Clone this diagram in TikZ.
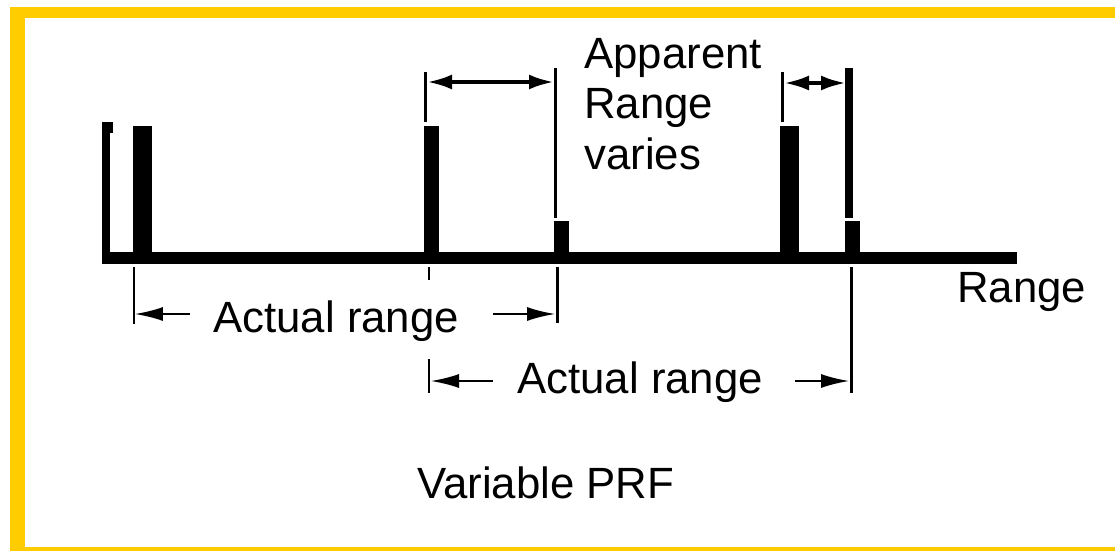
\documentclass[tikz,border=0pt]{standalone}
\usepackage{fontspec}
\setmainfont{Liberation Sans}
\usetikzlibrary{arrows.meta,positioning}
\definecolor{framegold}{HTML}{FFCC00}

\begin{document}
\begin{tikzpicture}[
  x=0.02cm, y=-0.02cm,
  every node/.style={font=\fontsize{24.9}{28.7}\selectfont, inner sep=0pt},
  pulse/.style={fill=black, anchor=south west, minimum width=0.38cm, minimum height=2.64cm},
  echo/.style={fill=black, anchor=south west, minimum width=0.3cm, minimum height=0.74cm},
  extline/.style={line width=1.7pt},
  gaparrow/.style={{Latex[length=0.5cm,width=0.3cm]}-{Latex[length=0.5cm,width=0.3cm]}, line width=2.3pt},
  rangearrow/.style={-{Latex[length=0.56cm,width=0.28cm]}, line width=1pt}
]
\useasboundingbox (0,0) rectangle (1115,551);

% Frame
\fill[framegold] (10,7) rectangle (1115,18);
\fill[framegold] (10,7) rectangle (25,551);
\fill[framegold] (10,547) rectangle (1115,551);

% Axis
\coordinate (axtop) at (106,122);
\coordinate (axfoot) at (106,264);
\coordinate (origin) at (102,258);
\coordinate (axend) at (1017,258);
\draw[line width=0.24cm] (origin) -- (axend);
\draw[line width=0.16cm] (axtop) -- (axfoot);
\fill (102,122) rectangle (113,133);

% Nodes
\node[pulse] (pulse1) at (133,258) {};
\node[pulse, minimum width=0.3cm] (pulse2) at (424,258) {};
\node[pulse] (pulse3) at (780,258) {};
\node[echo] (echo2) at (554,258) {};
\node[echo] (echo3) at (845,258) {};

\node[anchor=north west, align=left] (apparent) at (584,38) {Apparent\\Range\\varies};
\node[anchor=base west] (rangelbl) at (957,302) {Range};
\node[anchor=base west] (act1) at (213,332) {Actual range};
\node[anchor=base west] (act2) at (517,393) {Actual range};
\node[anchor=base west] (prf) at (417,498) {Variable PRF};

% Extension lines
\coordinate (p1lo) at (134,267);   \coordinate (p1bot) at (134,324);
\coordinate (p2hi) at (425.5,72);  \coordinate (p2top) at (425.5,122);
\coordinate (p2lo) at (429,267);   \coordinate (p2tick) at (429,280);
\coordinate (p2mid) at (429,359);  \coordinate (p2bot) at (429,393);
\coordinate (e2hi) at (555.5,68);  \coordinate (e2top) at (555.5,218);
\coordinate (e2lo) at (557,267);   \coordinate (e2bot) at (557,323);
\coordinate (p3hi) at (782,72);    \coordinate (p3top) at (782,122);
\coordinate (e3hi) at (849,68);    \coordinate (e3top) at (849,218);
\coordinate (e3lo) at (851,267);   \coordinate (e3bot) at (851,393);

\draw[extline] (p1lo) -- (p1bot);
\draw[extline] (p2hi) -- (p2top);
\draw[extline] (p2lo) -- (p2tick);
\draw[extline] (p2mid) -- (p2bot);
\draw[extline] (e2hi) -- (e2top);
\draw[extline] (e2lo) -- (e2bot);
\draw[extline] (p3hi) -- (p3top);
\draw[line width=4.5pt] (e3hi) -- (e3top);
\draw[extline] (e3lo) -- (e3bot);

% Arrows
\coordinate (g1a) at (427,82);  \coordinate (g1b) at (554,82);
\coordinate (g2a) at (784,83);  \coordinate (g2b) at (846,83);
\draw[gaparrow] (g1a) -- (g1b);
\draw[gaparrow] (g2a) -- (g2b);

\coordinate (a1l) at (190,314); \coordinate (a1le) at (135,314);
\coordinate (a1r) at (493,314); \coordinate (a1re) at (555,314);
\coordinate (a2l) at (493,381); \coordinate (a2le) at (431,381);
\coordinate (a2r) at (795,381); \coordinate (a2re) at (849,381);
\draw[rangearrow] (a1l) -- (a1le);
\draw[rangearrow] (a1r) -- (a1re);
\draw[rangearrow] (a2l) -- (a2le);
\draw[rangearrow] (a2r) -- (a2re);
\end{tikzpicture}
\end{document}
